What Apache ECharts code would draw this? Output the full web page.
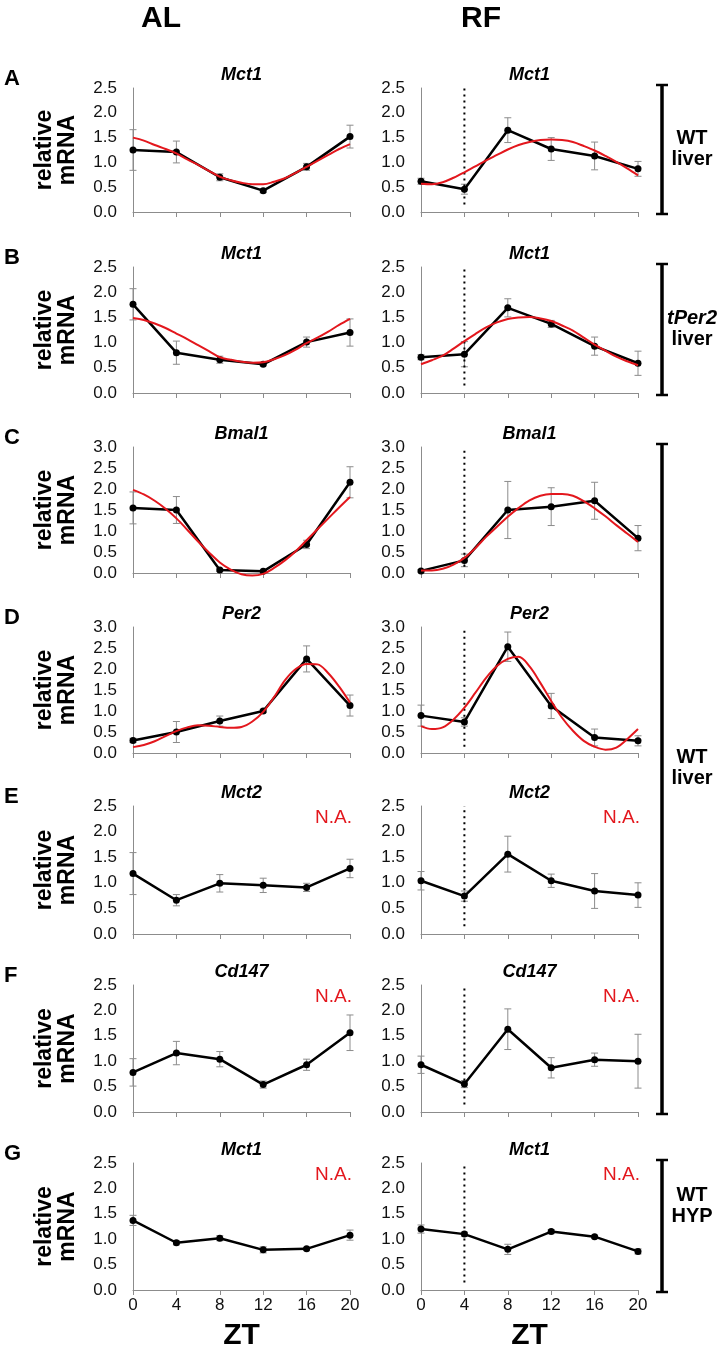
<!DOCTYPE html>
<html><head><meta charset="utf-8">
<script src="https://cdn.jsdelivr.net/npm/echarts@6/dist/echarts.min.js"></script>
<style>html,body{margin:0;padding:0;background:#fff}#c{width:727px;height:1362px}</style>
</head><body><div id="c"></div>
<script>
// ---------- DATA ----------
const ZT = [0, 4, 8, 12, 16, 20];
const FIT_ZT = [0, 1, 2, 3, 4, 5, 6, 7, 8, 9, 10, 11, 12, 13, 14, 15, 16, 17, 18, 19, 20];
const xTickLabels = ['0', '4', '8', '12', '16', '20'];
const columnLabels = ['AL', 'RF'];
const panelLetters = ['A', 'B', 'C', 'D', 'E', 'F', 'G'];
const geneNames = ['Mct1', 'Mct1', 'Bmal1', 'Per2', 'Mct2', 'Cd147', 'Mct1'];
const yMaxValues = [2.5, 2.5, 3.0, 3.0, 2.5, 2.5, 2.5];
const yAxisName = 'relative\nmRNA';
const xAxisName = 'ZT';
const naLabel = 'N.A.';
const dotLineZT = 4;
const dotLineBottom = 0.15;

const A_AL_mean = [1.25, 1.21, 0.70, 0.43, 0.91, 1.52];
const A_AL_err  = [0.41, 0.22, 0.07, 0.04, 0.07, 0.23];
const A_AL_fit  = [1.50, 1.44, 1.35, 1.27, 1.18, 1.06, 0.95, 0.83, 0.71, 0.64, 0.59, 0.56, 0.56, 0.61, 0.68, 0.79, 0.91, 1.03, 1.15, 1.27, 1.37];
const A_RF_mean = [0.62, 0.46, 1.65, 1.27, 1.13, 0.87];
const A_RF_err  = [0.06, 0.10, 0.25, 0.23, 0.28, 0.15];
const A_RF_fit  = [0.57, 0.56, 0.60, 0.69, 0.80, 0.92, 1.04, 1.15, 1.26, 1.35, 1.41, 1.45, 1.46, 1.45, 1.41, 1.33, 1.24, 1.13, 1.01, 0.88, 0.74];

const B_AL_mean = [1.76, 0.80, 0.66, 0.57, 1.01, 1.20];
const B_AL_err  = [0.31, 0.23, 0.07, 0.03, 0.10, 0.27];
const B_AL_fit  = [1.49, 1.45, 1.38, 1.29, 1.18, 1.07, 0.95, 0.83, 0.71, 0.66, 0.62, 0.60, 0.61, 0.67, 0.75, 0.86, 0.99, 1.10, 1.22, 1.35, 1.47];
const B_RF_mean = [0.71, 0.77, 1.69, 1.37, 0.93, 0.59];
const B_RF_err  = [0.05, 0.25, 0.18, 0.07, 0.18, 0.24];
const B_RF_fit  = [0.57, 0.65, 0.74, 0.88, 1.03, 1.17, 1.30, 1.40, 1.47, 1.50, 1.51, 1.48, 1.43, 1.34, 1.24, 1.10, 0.96, 0.84, 0.72, 0.63, 0.55];

const C_AL_mean = [1.55, 1.50, 0.07, 0.04, 0.68, 2.16];
const C_AL_err  = [0.38, 0.32, 0.03, 0.02, 0.10, 0.37];
const C_AL_fit  = [1.98, 1.87, 1.72, 1.53, 1.30, 1.03, 0.75, 0.49, 0.25, 0.08, -0.03, -0.06, -0.02, 0.12, 0.30, 0.52, 0.78, 1.04, 1.30, 1.56, 1.81];
const C_RF_mean = [0.05, 0.30, 1.50, 1.58, 1.72, 0.83];
const C_RF_err  = [0.03, 0.15, 0.68, 0.45, 0.44, 0.30];
const C_RF_fit  = [0.06, 0.06, 0.10, 0.20, 0.36, 0.59, 0.86, 1.10, 1.34, 1.55, 1.73, 1.84, 1.88, 1.88, 1.84, 1.71, 1.54, 1.35, 1.14, 0.94, 0.74];

const D_AL_mean = [0.30, 0.50, 0.76, 1.00, 2.24, 1.13];
const D_AL_err  = [0.05, 0.25, 0.12, 0.04, 0.31, 0.25];
const D_AL_fit  = [0.14, 0.19, 0.28, 0.40, 0.52, 0.61, 0.66, 0.65, 0.62, 0.60, 0.62, 0.75, 0.98, 1.33, 1.73, 2.00, 2.12, 2.11, 1.90, 1.58, 1.20];
const D_RF_mean = [0.89, 0.74, 2.53, 1.12, 0.37, 0.29];
const D_RF_err  = [0.25, 0.10, 0.35, 0.30, 0.20, 0.12];
const D_RF_fit  = [0.64, 0.57, 0.61, 0.80, 1.08, 1.43, 1.79, 2.07, 2.24, 2.29, 2.06, 1.67, 1.24, 0.84, 0.53, 0.29, 0.15, 0.08, 0.13, 0.33, 0.57];

const E_AL_mean = [1.18, 0.66, 0.99, 0.95, 0.91, 1.28];
const E_AL_err  = [0.41, 0.11, 0.17, 0.14, 0.08, 0.18];
const E_RF_mean = [1.04, 0.74, 1.56, 1.04, 0.84, 0.76];
const E_RF_err  = [0.18, 0.10, 0.35, 0.13, 0.34, 0.24];

const F_AL_mean = [0.78, 1.16, 1.04, 0.54, 0.93, 1.56];
const F_AL_err  = [0.27, 0.23, 0.15, 0.07, 0.11, 0.35];
const F_RF_mean = [0.93, 0.55, 1.63, 0.87, 1.03, 1.00];
const F_RF_err  = [0.17, 0.07, 0.40, 0.20, 0.13, 0.53];

const G_AL_mean = [1.37, 0.93, 1.02, 0.79, 0.81, 1.08];
const G_AL_err  = [0.10, 0.04, 0.05, 0.06, 0.03, 0.10];
const G_RF_mean = [1.20, 1.10, 0.80, 1.15, 1.05, 0.76];
const G_RF_err  = [0.08, 0.04, 0.10, 0.04, 0.03, 0.05];

const groupLabels = [
  {lines: ['WT', 'liver'], italicFirst: false, fromRow: 0, toRow: 0},
  {lines: ['tPer2', 'liver'], italicFirst: true, fromRow: 1, toRow: 1},
  {lines: ['WT', 'liver'], italicFirst: false, fromRow: 2, toRow: 5},
  {lines: ['WT', 'HYP'], italicFirst: false, fromRow: 6, toRow: 6}
];

const panels = [
  [{mean: A_AL_mean, err: A_AL_err, fit: A_AL_fit}, {mean: A_RF_mean, err: A_RF_err, fit: A_RF_fit}],
  [{mean: B_AL_mean, err: B_AL_err, fit: B_AL_fit}, {mean: B_RF_mean, err: B_RF_err, fit: B_RF_fit}],
  [{mean: C_AL_mean, err: C_AL_err, fit: C_AL_fit}, {mean: C_RF_mean, err: C_RF_err, fit: C_RF_fit}],
  [{mean: D_AL_mean, err: D_AL_err, fit: D_AL_fit}, {mean: D_RF_mean, err: D_RF_err, fit: D_RF_fit}],
  [{mean: E_AL_mean, err: E_AL_err, fit: null}, {mean: E_RF_mean, err: E_RF_err, fit: null}],
  [{mean: F_AL_mean, err: F_AL_err, fit: null}, {mean: F_RF_mean, err: F_RF_err, fit: null}],
  [{mean: G_AL_mean, err: G_AL_err, fit: null}, {mean: G_RF_mean, err: G_RF_err, fit: null}]
];

// ---------- LAYOUT / STYLE ----------
const FONT = "'Liberation Sans', Arial, Helvetica, sans-serif";
const PLOT_LEFT = [133, 421];
const PLOT_W = 217;
const ROW_TOP = [88, 267, 447, 627, 806, 985, 1163];
const ROW_BOTTOM = [212, 393, 573, 753, 934, 1112, 1290];
const AXIS_COLOR = '#8c8c8c';
const ERR_COLOR = '#8c8c8c';
const RED = '#e3171d';

const chart = echarts.init(document.getElementById('c'), null, {renderer: 'canvas'});

const grids = [], xAxes = [], yAxes = [], series = [], graphics = [];

panels.forEach((row, r) => {
  row.forEach((p, c) => {
    const g = grids.length;
    grids.push({left: PLOT_LEFT[c], top: ROW_TOP[r], width: PLOT_W, height: ROW_BOTTOM[r] - ROW_TOP[r]});
    xAxes.push({
      gridIndex: g, type: 'value', min: 0, max: 20, interval: 4,
      axisLine: {show: true, onZero: false, lineStyle: {color: AXIS_COLOR, width: 1}},
      axisTick: {show: true, length: 5, lineStyle: {color: AXIS_COLOR, width: 1}},
      axisLabel: {show: r === panels.length - 1, fontFamily: FONT, fontSize: 17, color: '#111', margin: 7,
        formatter: v => xTickLabels[ZT.indexOf(v)]},
      splitLine: {show: false}
    });
    yAxes.push({
      gridIndex: g, type: 'value', min: 0, max: yMaxValues[r], interval: 0.5,
      axisLine: {show: true, lineStyle: {color: AXIS_COLOR, width: 1}},
      axisTick: {show: false},
      axisLabel: {fontFamily: FONT, fontSize: 17, color: '#111', margin: 16, formatter: v => v.toFixed(1)},
      splitLine: {show: false}
    });
    // error bars
    series.push({
      type: 'custom', xAxisIndex: g, yAxisIndex: g, silent: true, z: 1, clip: false,
      data: ZT.map((x, k) => [x, p.mean[k] - p.err[k], p.mean[k] + p.err[k]]),
      encode: {x: 0, y: [1, 2]},
      renderItem: (params, api) => {
        const x = api.value(0);
        const lo = api.coord([x, api.value(1)]);
        const hi = api.coord([x, api.value(2)]);
        const w = 3.5;
        const st = {stroke: ERR_COLOR, lineWidth: 1};
        return {type: 'group', children: [
          {type: 'line', shape: {x1: lo[0], y1: lo[1], x2: hi[0], y2: hi[1]}, style: st},
          {type: 'line', shape: {x1: lo[0] - w, y1: lo[1], x2: lo[0] + w, y2: lo[1]}, style: st},
          {type: 'line', shape: {x1: hi[0] - w, y1: hi[1], x2: hi[0] + w, y2: hi[1]}, style: st}
        ]};
      }
    });
    // mean line
    series.push({
      type: 'line', xAxisIndex: g, yAxisIndex: g, silent: true, z: 3,
      data: ZT.map((x, k) => [x, p.mean[k]]),
      symbol: 'circle', symbolSize: 7, itemStyle: {color: '#000'},
      lineStyle: {color: '#000', width: 2.5}
    });
    if (p.fit) {
      series.push({
        type: 'line', xAxisIndex: g, yAxisIndex: g, silent: true, z: 4, clip: false,
        data: FIT_ZT.map((x, k) => [x, p.fit[k]]),
        smooth: 0.35, showSymbol: false, symbol: 'none',
        lineStyle: {color: RED, width: 2}
      });
    }
    if (c === 1) {
      series.push({
        type: 'line', xAxisIndex: g, yAxisIndex: g, silent: true, z: 2,
        data: [[dotLineZT, dotLineBottom], [dotLineZT, yMaxValues[r]]],
        symbol: 'none', lineStyle: {color: '#000', width: 2, type: [2, 4], cap: 'butt'}
      });
    }
    // gene title
    graphics.push({type: 'text', x: PLOT_LEFT[c] + PLOT_W / 2, y: ROW_TOP[r] - 13,
      style: {text: geneNames[r], font: 'italic bold 18px ' + FONT, fill: '#000',
        textAlign: 'center', textVerticalAlign: 'middle', align: 'center', verticalAlign: 'middle'}});
    if (!p.fit) {
      graphics.push({type: 'text', x: PLOT_LEFT[c] + PLOT_W + 2, y: ROW_TOP[r] + 12,
        style: {text: naLabel, font: '19px ' + FONT, fill: RED,
          textAlign: 'right', textVerticalAlign: 'middle', align: 'right', verticalAlign: 'middle'}});
    }
  });
  // panel letter
  graphics.push({type: 'text', x: 4, y: ROW_TOP[r] - 9,
    style: {text: panelLetters[r], font: 'bold 22px ' + FONT, fill: '#000',
      textAlign: 'left', textVerticalAlign: 'middle', align: 'left', verticalAlign: 'middle'}});
  // y axis name
  graphics.push({type: 'text', x: 56, y: (ROW_TOP[r] + ROW_BOTTOM[r]) / 2, rotation: Math.PI / 2,
    style: {text: yAxisName, font: 'bold 23px ' + FONT, fill: '#000', lineHeight: 23,
      textAlign: 'center', textVerticalAlign: 'middle', align: 'center', verticalAlign: 'middle'}});
});

// column headers & ZT labels
columnLabels.forEach((t, c) => {
  graphics.push({type: 'text', x: [161, 481][c], y: 19,
    style: {text: t, font: 'bold 30px ' + FONT, fill: '#000',
      textAlign: 'center', textVerticalAlign: 'middle', align: 'center', verticalAlign: 'middle'}});
  graphics.push({type: 'text', x: PLOT_LEFT[c] + PLOT_W / 2, y: 1336,
    style: {text: xAxisName, font: 'bold 30px ' + FONT, fill: '#000',
      textAlign: 'center', textVerticalAlign: 'middle', align: 'center', verticalAlign: 'middle'}});
});

// brackets
const BX = 662;
groupLabels.forEach(gl => {
  const top = ROW_TOP[gl.fromRow] - 3;
  const bot = ROW_BOTTOM[gl.toRow] + 2;
  const ls = {stroke: '#000', lineWidth: 3.5};
  graphics.push({type: 'line', shape: {x1: BX, y1: top, x2: BX, y2: bot}, style: ls});
  graphics.push({type: 'line', shape: {x1: BX - 6, y1: top, x2: BX + 6, y2: top}, style: {stroke: '#000', lineWidth: 2.5}});
  graphics.push({type: 'line', shape: {x1: BX - 6, y1: bot, x2: BX + 6, y2: bot}, style: {stroke: '#000', lineWidth: 2.5}});
  let cy = (top + bot) / 2;
  if (gl.fromRow === 6) cy = 1206;
  if (gl.fromRow === 2) cy = 768;
  gl.lines.forEach((ln, i) => {
    const italic = (i === 0 && gl.italicFirst) ? 'italic ' : '';
    graphics.push({type: 'text', x: 692, y: cy - 11 + i * 21,
      style: {text: ln, font: italic + 'bold 20px ' + FONT, fill: '#000',
        textAlign: 'center', textVerticalAlign: 'middle', align: 'center', verticalAlign: 'middle'}});
  });
});

chart.setOption({
  animation: false,
  backgroundColor: '#fff',
  grid: grids, xAxis: xAxes, yAxis: yAxes, series: series,
  graphic: {elements: graphics}
});
</script>
</body></html>
